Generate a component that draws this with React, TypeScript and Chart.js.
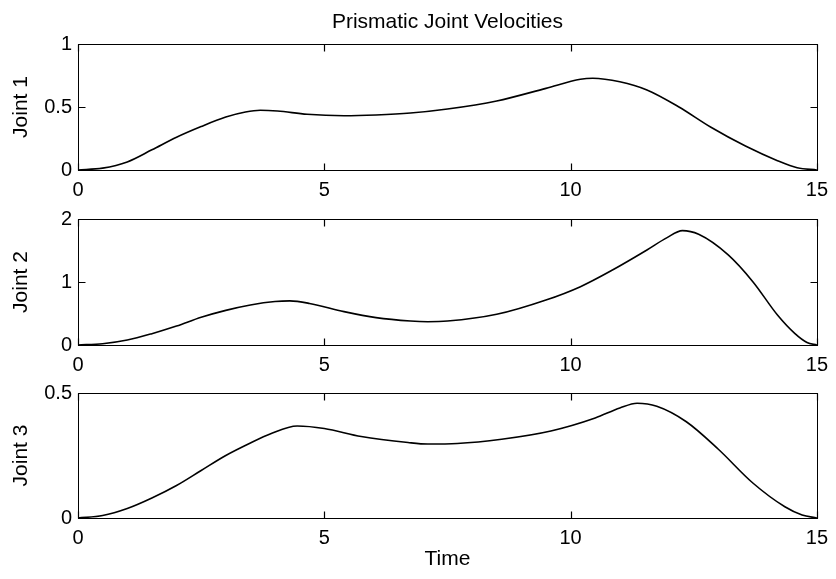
import React, { useEffect, useRef } from "react";
import { Chart, registerables } from "chart.js";

Chart.register(...registerables);

// ---- data -------------------------------------------------------------
const TIME_MIN = 0;
const TIME_MAX = 15;
const timeTicks = [0, 5, 10, 15];

const joint1Time = [0, 0.5, 1.0, 1.5, 2.0, 2.5, 3.0, 3.4, 3.7, 4.05, 4.65, 5.4, 6.05, 6.75, 7.5, 8.5, 9.5, 10.2, 10.45, 11.0, 11.55, 12.2, 12.85, 13.55, 14.2, 14.6, 15];
const joint1Vel = [0, 0.015, 0.064, 0.16, 0.26, 0.345, 0.42, 0.46, 0.474, 0.468, 0.442, 0.431, 0.437, 0.452, 0.484, 0.548, 0.648, 0.72, 0.728, 0.7, 0.635, 0.5, 0.339, 0.19, 0.074, 0.018, 0];
const joint1Ticks = [0, 0.5, 1];

const joint2Time = [0, 0.5, 1.0, 1.5, 2.0, 2.5, 3.0, 3.5, 4.0, 4.3, 4.7, 5.4, 6.05, 6.75, 7.1, 7.5, 8.5, 9.5, 10.2, 10.85, 11.55, 11.95, 12.27, 12.6, 13.2, 13.7, 14.2, 14.55, 14.8, 15];
const joint2Vel = [0, 0.02, 0.079, 0.18, 0.3, 0.44, 0.55, 0.635, 0.69, 0.7, 0.66, 0.53, 0.434, 0.38, 0.37, 0.38, 0.487, 0.714, 0.926, 1.19, 1.508, 1.7, 1.815, 1.757, 1.43, 1.005, 0.476, 0.185, 0.04, 0];
const joint2Ticks = [0, 1, 2];

const joint3Time = [0, 0.5, 1.0, 1.5, 2.0, 2.5, 3.0, 3.5, 3.9, 4.45, 5.0, 5.75, 6.7, 7.1, 7.7, 8.6, 9.6, 10.5, 11.0, 11.35, 11.75, 12.35, 13.0, 13.7, 14.35, 14.7, 15];
const joint3Vel = [0, 0.01, 0.038, 0.08, 0.13, 0.19, 0.25, 0.3, 0.336, 0.368, 0.358, 0.326, 0.302, 0.296, 0.298, 0.315, 0.348, 0.4, 0.44, 0.459, 0.447, 0.385, 0.275, 0.14, 0.045, 0.012, 0];
const joint3Ticks = [0, 0.5];

const TITLE = "Prismatic Joint Velocities";
const X_LABEL = "Time";

// ---- styling ------------------------------------------------------------
const FONT_FAMILY = "'Liberation Sans', Arial, Helvetica, sans-serif";
const TICK_FONT = { family: FONT_FAMILY, size: 20 };
const LABEL_FONT = { family: FONT_FAMILY, size: 21 };
const WIDTH = 836;
const AXIS_WIDTH = 78;
const RIGHT_PAD = 15;
const TICK_LEN = 7;

// Box around the axes with MATLAB-style inward ticks on all four sides
const framePlugin = {
  id: "frame",
  afterDraw(chart: any, _args: any, opts: any) {
    const { ctx, chartArea: a, scales } = chart;
    const xs = scales.x;
    const ys = scales.y;
    const l = Math.round(a.left) + 0.5;
    const r = Math.round(a.right) + 0.5;
    const t = Math.round(a.top) + 0.5;
    const b = Math.round(a.bottom) + 0.5;
    ctx.save();
    ctx.strokeStyle = "#000";
    ctx.lineWidth = 1;
    ctx.strokeRect(l, t, r - l, b - t);
    ctx.lineWidth = 1.2;
    for (const v of opts.xTicks as number[]) {
      const px = Math.round(xs.getPixelForValue(v)) + 0.5;
      ctx.beginPath();
      ctx.moveTo(px, b);
      ctx.lineTo(px, b - TICK_LEN);
      ctx.moveTo(px, t);
      ctx.lineTo(px, t + TICK_LEN);
      ctx.stroke();
    }
    for (const v of opts.yTicks as number[]) {
      const py = Math.round(ys.getPixelForValue(v)) + 0.5;
      ctx.beginPath();
      ctx.moveTo(l, py);
      ctx.lineTo(l + TICK_LEN, py);
      ctx.moveTo(r, py);
      ctx.lineTo(r - TICK_LEN, py);
      ctx.stroke();
    }
    ctx.restore();
  },
};

// Figure title centred over the plotting area
const figureTitlePlugin = {
  id: "figureTitle",
  afterDraw(chart: any, _args: any, opts: any) {
    if (!opts || !opts.text) return;
    const { ctx, chartArea: a } = chart;
    ctx.save();
    ctx.fillStyle = "#000";
    ctx.font = `${opts.size}px ${FONT_FAMILY}`;
    ctx.textAlign = "center";
    ctx.textBaseline = "middle";
    ctx.fillText(opts.text, (a.left + a.right) / 2, opts.y);
    ctx.restore();
  },
};

const plainNumber = (v: any) => String(Number(v));
const fixedTicks = (values: number[]) => (s: any) => {
  s.ticks = values.map((value) => ({ value }));
};

type PanelProps = {
  time: number[];
  vel: number[];
  yTicks: number[];
  label: string;
  height: number;
  top: number;
  padTop: number;
  xHeight: number;
  xTitle?: string;
  title?: string;
};

function Panel(p: PanelProps) {
  const ref = useRef<HTMLCanvasElement | null>(null);

  useEffect(() => {
    if (!ref.current) return;
    const points = p.time.map((t, i) => ({ x: t, y: p.vel[i] }));
    const yMax = p.yTicks[p.yTicks.length - 1];
    const chart = new Chart(ref.current, {
      type: "line",
      data: {
        datasets: [
          {
            data: points,
            borderColor: "#000",
            borderWidth: 1.6,
            pointRadius: 0,
            fill: false,
            cubicInterpolationMode: "monotone",
          },
        ],
      },
      plugins: [framePlugin, figureTitlePlugin],
      options: {
        animation: false,
        responsive: false,
        devicePixelRatio: 1,
        events: [],
        layout: { padding: { top: p.padTop, left: 0, right: RIGHT_PAD, bottom: 0 } },
        plugins: {
          legend: { display: false },
          tooltip: { enabled: false },
          title: { display: false },
          frame: { xTicks: timeTicks, yTicks: p.yTicks },
          figureTitle: p.title ? { text: p.title, size: 21, y: 22 } : false,
        } as any,
        scales: {
          x: {
            type: "linear",
            min: TIME_MIN,
            max: TIME_MAX,
            afterBuildTicks: fixedTicks(timeTicks),
            grid: { display: false, drawTicks: false },
            border: { display: false },
            ticks: {
              font: TICK_FONT,
              color: "#000",
              padding: 8,
              maxRotation: 0,
              autoSkip: false,
              callback: plainNumber,
            },
            title: {
              display: !!p.xTitle,
              text: p.xTitle || "",
              font: LABEL_FONT,
              color: "#000",
              padding: { top: 0, bottom: 7 },
            },
            afterFit: (s: any) => {
              s.height = p.xHeight;
            },
          },
          y: {
            type: "linear",
            min: 0,
            max: yMax,
            afterBuildTicks: fixedTicks(p.yTicks),
            grid: { display: false, drawTicks: false },
            border: { display: false },
            ticks: {
              font: TICK_FONT,
              color: "#000",
              padding: 6,
              callback: plainNumber,
            },
            title: {
              display: true,
              text: p.label,
              font: LABEL_FONT,
              color: "#000",
              padding: { top: 9, bottom: 0 },
            },
            afterFit: (s: any) => {
              s.width = AXIS_WIDTH;
            },
          },
        },
      } as any,
    });
    return () => chart.destroy();
  }, []);

  return (
    <canvas
      ref={ref}
      width={WIDTH}
      height={p.height}
      style={{ position: "absolute", left: 0, top: p.top, width: WIDTH, height: p.height }}
    />
  );
}

export default function App() {
  return (
    <div
      style={{
        position: "absolute",
        left: 0,
        top: 0,
        width: WIDTH,
        height: 579,
        background: "#fff",
        overflow: "hidden",
      }}
    >
      <Panel time={joint1Time} vel={joint1Vel} yTicks={joint1Ticks} label="Joint 1" top={0} height={200} padTop={44} xHeight={30} title={TITLE} />
      <Panel time={joint2Time} vel={joint2Vel} yTicks={joint2Ticks} label="Joint 2" top={200} height={175} padTop={19} xHeight={30} />
      <Panel time={joint3Time} vel={joint3Vel} yTicks={joint3Ticks} label="Joint 3" top={375} height={204} padTop={18} xHeight={61} xTitle={X_LABEL} />
    </div>
  );
}
